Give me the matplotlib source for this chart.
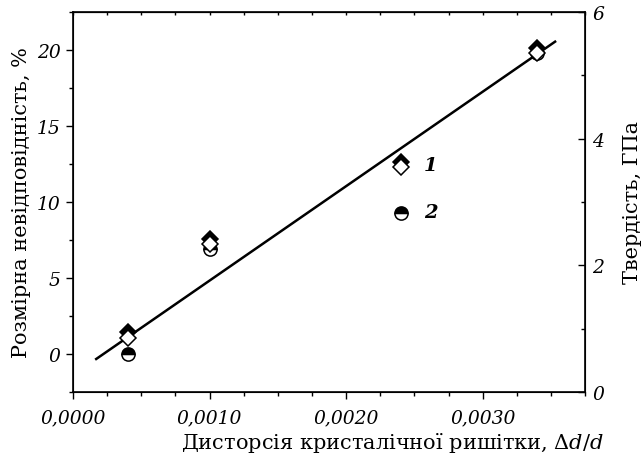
import matplotlib
matplotlib.use('Agg')
import matplotlib.pyplot as plt
from matplotlib.ticker import MultipleLocator, FuncFormatter

plt.rcParams['font.family'] = 'DejaVu Serif'
plt.rcParams['mathtext.fontset'] = 'dejavuserif'

# lattice distortion values
distortion = [0.0004, 0.0010, 0.0024, 0.0034]
# series 1: size mismatch, % (filled diamonds) and hardness, GPa (open diamonds)
mismatch_1 = [1.42, 7.54, 12.6, 20.1]
hardness_1 = [0.86, 2.33, 3.55, 5.35]
# series 2: half-filled circles
mismatch_2 = [0.0, 6.9, 9.3, 19.8]
# linear fit
fit_x = [0.00017, 0.00353]
fit_y = [-0.33, 20.55]

fig = plt.figure(figsize=(6.43, 4.6), dpi=100)
ax = fig.add_axes([0.1135, 0.1457, 0.7965, 0.826])

ax.plot(fit_x, fit_y, color='black', lw=1.8, zorder=2)
ax.plot(distortion, mismatch_2, 'o', ms=9.5, mfc='black', mfcalt='white',
        fillstyle='top', mec='black', mew=1.1, ls='none', zorder=3)
ax.plot(distortion, mismatch_1, 'D', ms=8.5, mfc='black', mec='black',
        mew=1.1, ls='none', zorder=4)

ax.set_xlim(0, 0.00375)
ax.set_ylim(-2.5, 22.5)
ax.xaxis.set_major_locator(MultipleLocator(0.001))
ax.xaxis.set_minor_locator(MultipleLocator(0.00025))
ax.yaxis.set_major_locator(MultipleLocator(5))
ax.yaxis.set_minor_locator(MultipleLocator(2.5))
ax.xaxis.set_major_formatter(FuncFormatter(lambda v, p: f'{v:.4f}'.replace('.', ',')))
ax.tick_params(which='both', direction='out', width=1.0, labelsize=13.5, pad=4)
ax.tick_params(which='major', length=5)
ax.tick_params(which='minor', length=3)
ax.tick_params(axis='x', which='major', pad=7)
for lab in ax.get_xticklabels() + ax.get_yticklabels():
    lab.set_fontstyle('italic')
for s in ax.spines.values():
    s.set_linewidth(1.2)

top = ax.secondary_xaxis('top')
top.xaxis.set_major_locator(MultipleLocator(0.00025))
top.tick_params(direction='in', length=2.5, width=1.0, labeltop=False)

ax2 = ax.twinx()
ax2.plot(distortion, hardness_1, 'D', ms=8.5, mfc='white', mec='black',
         mew=1.1, ls='none', zorder=5)
ax2.set_ylim(0, 6)
ax2.yaxis.set_major_locator(MultipleLocator(2))
ax2.yaxis.set_minor_locator(MultipleLocator(1))
ax2.tick_params(which='both', direction='in', width=1.0, labelsize=13.5, pad=5)
ax2.tick_params(which='major', length=5)
ax2.tick_params(which='minor', length=3)
for lab in ax2.get_yticklabels():
    lab.set_fontstyle('italic')
ax2.set_ylabel('Твердість, ГПа', fontsize=15, labelpad=14)

ax.set_ylabel('Розмірна невідповідність, %', fontsize=15, labelpad=4)
ax.set_xlabel(r'Дисторсія кристалічної ришітки, $\Delta d/d$', fontsize=15)
ax.xaxis.set_label_coords(0.623, -0.1)

ax.text(0.00257, 12.46, '1', fontsize=14, fontstyle='italic', fontweight='bold',
        va='center', ha='left')
ax.text(0.00257, 9.31, '2', fontsize=14, fontstyle='italic', fontweight='bold',
        va='center', ha='left')

fig.savefig('out.png', dpi=100)
